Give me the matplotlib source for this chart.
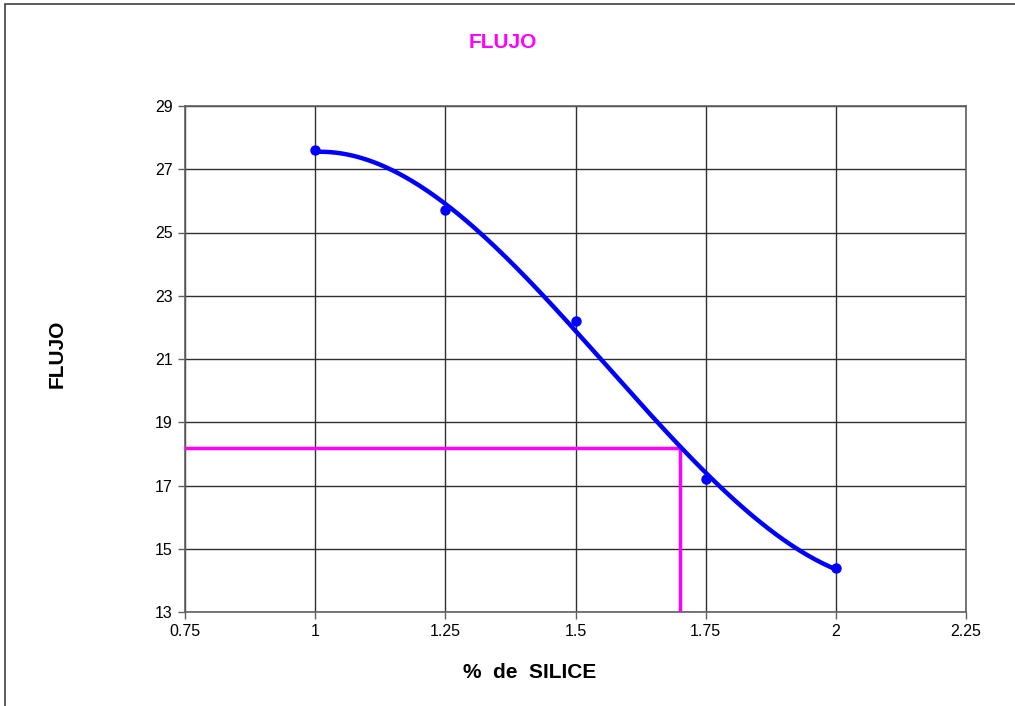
import numpy as np
import matplotlib.pyplot as plt
from matplotlib.patches import Rectangle

plt.rcParams['font.family'] = ['Liberation Sans', 'DejaVu Sans']

# measured points
silice = [1.0, 1.25, 1.5, 1.75, 2.0]
flujo = [27.6, 25.7, 22.2, 17.2, 14.4]

# reading taken off the curve
x_read = 1.7
y_read = 18.2

x_ticks = [0.75, 1, 1.25, 1.5, 1.75, 2, 2.25]
x_tick_labels = ['0.75', '1', '1.25', '1.5', '1.75', '2', '2.25']
y_ticks = [13, 15, 17, 19, 21, 23, 25, 27, 29]

# cubic trend line
coef = np.polyfit(silice, flujo, 3)
xs = np.linspace(silice[0], silice[-1], 200)
ys = np.polyval(coef, xs)

fig = plt.figure(figsize=(10.15, 7.06), dpi=100)
ax = fig.add_axes([185 / 1015, 1 - 612 / 706, 781 / 1015, 506 / 706])

ax.plot(xs, ys, color='#0000ff', lw=3.2, zorder=4, solid_capstyle='round')
ax.plot(silice, flujo, 'o', color='#0000ff', ms=6.5, zorder=5)

ax.plot([0.75, x_read], [y_read, y_read], color='#ff00ff', lw=2.5, zorder=3)
ax.plot([x_read, x_read], [13, y_read], color='#ff00ff', lw=2.5, zorder=3)

ax.set_xlim(0.75, 2.25)
ax.set_ylim(13, 29)
ax.set_xticks(x_ticks)
ax.set_xticklabels(x_tick_labels)
ax.set_yticks(y_ticks)
ax.grid(True, color='#303030', lw=1)
ax.set_axisbelow(True)
for s in ax.spines.values():
    s.set_color('#606060')
    s.set_linewidth(1.2)
ax.tick_params(axis='both', direction='out', length=5, width=1, color='#606060',
               labelsize=11.5, pad=4)

fig.text(503 / 1015, 1 - 42 / 706, 'FLUJO', color='#ff00ff', fontsize=15,
         fontweight='bold', ha='center', va='center')
fig.text(530 / 1015, 1 - 672 / 706, '%  de  SILICE', color='black', fontsize=15,
         fontweight='bold', ha='center', va='center')
fig.text(57 / 1015, 1 - 354 / 706, 'FLUJO', color='black', fontsize=15,
         fontweight='bold', ha='center', va='center', rotation=90)

# chart frame
fig.add_artist(Rectangle((5 / 1015, -0.1), 1.2, 1.1 - 4 / 706, transform=fig.transFigure,
                         fill=False, edgecolor='#404040', lw=1.2))

fig.savefig('out.png', dpi=100)
